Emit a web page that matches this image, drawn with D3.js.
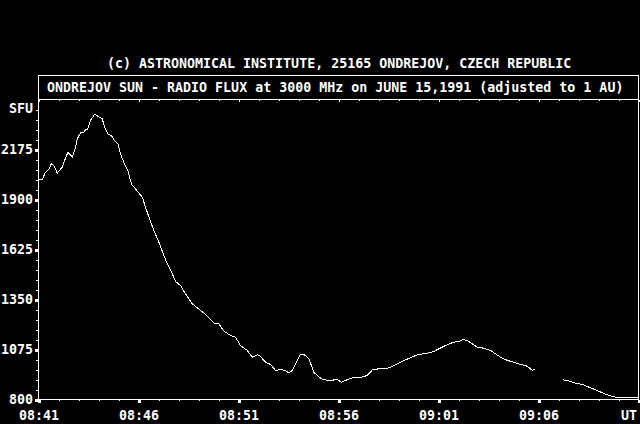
<!DOCTYPE html>
<html>
<head>
<meta charset="utf-8">
<script src="https://cdn.jsdelivr.net/npm/d3@7"></script>
<style>
  html, body { margin: 0; padding: 0; background: #000; }
  svg { display: block; }
  text { font-family: "DejaVu Sans Mono", "Liberation Mono", monospace; font-weight: bold; font-size: 13.3px; fill: #fff; }
</style>
</head>
<body>
<svg id="chart" width="640" height="424"></svg>
<script>
// ---- data (minutes after 08:41 UT, flux in SFU) ----
const minutes = [0,0.19,0.35,0.52,0.64,0.77,0.94,1.19,1.27,1.47,1.69,1.85,1.94,2.1,2.27,2.35,2.44,2.6,2.82,3.02,3.19,3.3,3.47,3.64,3.8,3.97,4.1,4.3,4.47,4.6,4.69,4.85,5.02,5.19,5.35,5.55,5.77,6.02,6.27,6.44,6.69,6.85,7.1,7.35,7.69,7.94,8.27,8.52,8.77,9.02,9.27,9.6,9.85,10.1,10.44,10.69,10.94,11.1,11.35,11.6,11.85,12.1,12.35,12.52,12.69,12.94,13.1,13.25,13.4,13.52,13.77,14.02,14.27,14.6,14.94,15.14,15.35,15.69,16.02,16.44,16.69,17.02,17.35,17.6,17.94,18.27,18.6,18.94,19.44,19.77,20.02,20.35,20.74,21.02,21.24,21.44,21.69,21.94,22.27,22.6,22.85,23.1,23.44,23.77,24.1,24.44,24.69,24.85,25.5,26.22,26.44,26.77,27.19,27.52,27.85,28.19,28.52,28.85,29.27,29.77,30];
const flux = [2010,2010,2050,2065,2096,2087,2045,2078,2105,2160,2133,2188,2234,2267,2270,2283,2283,2335,2371,2353,2344,2298,2261,2252,2225,2206,2151,2096,2060,2005,1977,1959,1935,1913,1858,1794,1730,1665,1592,1546,1491,1449,1427,1381,1326,1304,1275,1249,1220,1216,1176,1152,1143,1097,1070,1033,1046,1037,1005,993,960,965,960,945,960,1015,1048,1048,1037,1024,950,923,908,905,910,895,905,919,919,932,963,969,969,978,996,1015,1029,1046,1055,1064,1079,1097,1115,1119,1130,1124,1106,1088,1082,1070,1051,1033,1015,1005,993,983,960,969,null,908,905,892,883,868,853,837,822,813,813,809,809];
const yTicks = [800,1075,1350,1625,1900,2175];
const xTicks = [0,5,10,15,20,25,30];
const xTickLabels = ["08:41","08:46","08:51","08:56","09:01","09:06","UT"];
const yUnit = "SFU";
const credit = "(c) ASTRONOMICAL INSTITUTE, 25165 ONDREJOV, CZECH REPUBLIC";
const title = "ONDREJOV SUN - RADIO FLUX at 3000 MHz on JUNE 15,1991 (adjusted to 1 AU)";

const data = minutes.map((m, i) => ({ t: m, v: flux[i] }));

const svg = d3.select("#chart");
const L = 38, R = 638, T = 99, B = 399;

const x = d3.scaleLinear().domain([0, 30]).range([L + 0.5, R + 0.5]);
const y = d3.scaleLinear().domain([800, 2450]).range([B + 0.5, T + 0.5]);

const white = "#fff";

// credit and title
svg.append("text").attr("x", 107).attr("y", 68).text(credit);
svg.append("rect").attr("x", L + 0.5).attr("y", 75.5).attr("width", R - L).attr("height", T - 75)
  .attr("fill", "none").attr("stroke", white).attr("shape-rendering", "crispEdges");
svg.append("text").attr("x", 47).attr("y", 92).text(title);

// frame
const frame = svg.append("g").attr("stroke", white).attr("shape-rendering", "crispEdges");
frame.append("line").attr("x1", L + 0.5).attr("x2", L + 0.5).attr("y1", T).attr("y2", B + 1);
frame.append("line").attr("x1", R + 0.5).attr("x2", R + 0.5).attr("y1", 75).attr("y2", B + 1);
frame.append("line").attr("x1", L).attr("x2", R + 1).attr("y1", B + 0.5).attr("y2", B + 0.5);
frame.append("line").attr("x1", L).attr("x2", R + 1).attr("y1", T + 0.5).attr("y2", T + 0.5);

function styleAxis(g, width) {
  g.select(".domain").remove();
  g.selectAll(".tick line").attr("stroke", white).attr("stroke-width", width).attr("shape-rendering", "crispEdges");
  g.selectAll("text").attr("fill", white).attr("font-family", null).attr("font-size", null);
}

// y axis minor ticks
const yMinor = d3.range(800, 2450, 55).filter(v => !yTicks.includes(v));
svg.append("g").attr("transform", `translate(${L},0)`)
  .call(d3.axisLeft(y).tickValues(yMinor).tickSize(2).tickFormat(""))
  .call(g => styleAxis(g, 1));
// y axis major ticks + labels
svg.append("g").attr("transform", `translate(${L},0)`)
  .call(d3.axisLeft(y).tickValues(yTicks).tickSize(3).tickPadding(2).tickFormat(d3.format("d")))
  .call(g => styleAxis(g, 3));
svg.append("text").attr("x", 33).attr("y", 112.5).attr("text-anchor", "end").text(yUnit);

// x axis minor ticks (bottom)
const xMinor = d3.range(0, 31, 1).filter(v => !xTicks.includes(v));
svg.append("g").attr("transform", `translate(0,${B + 1})`)
  .call(d3.axisBottom(x).tickValues(xMinor).tickSize(1).tickFormat(""))
  .call(g => styleAxis(g, 1));
// x axis major ticks + labels
svg.append("g").attr("transform", `translate(0,${B + 1})`)
  .call(d3.axisBottom(x).tickValues(xTicks).tickSize(3).tickPadding(8).tickFormat((d, i) => xTickLabels[i]))
  .call(g => styleAxis(g, 3))
  .call(g => g.selectAll(".tick").filter(d => d === 30).select("text").attr("text-anchor", "middle").attr("dx", -10));

// top ticks (inside)
svg.append("g").attr("transform", `translate(0,${T + 1})`)
  .call(d3.axisTop(x).tickValues(xMinor).tickSize(-1).tickFormat(""))
  .call(g => styleAxis(g, 1));
svg.append("g").attr("transform", `translate(0,${T + 1})`)
  .call(d3.axisTop(x).tickValues(xTicks).tickSize(-2).tickFormat(""))
  .call(g => styleAxis(g, 1));

// flux curve
const line = d3.line()
  .defined(d => d.v != null)
  .x(d => x(d.t))
  .y(d => y(d.v));
svg.append("path").datum(data)
  .attr("d", line)
  .attr("fill", "none")
  .attr("stroke", white)
  .attr("stroke-width", 1)
  .attr("shape-rendering", "crispEdges");
</script>
</body>
</html>
